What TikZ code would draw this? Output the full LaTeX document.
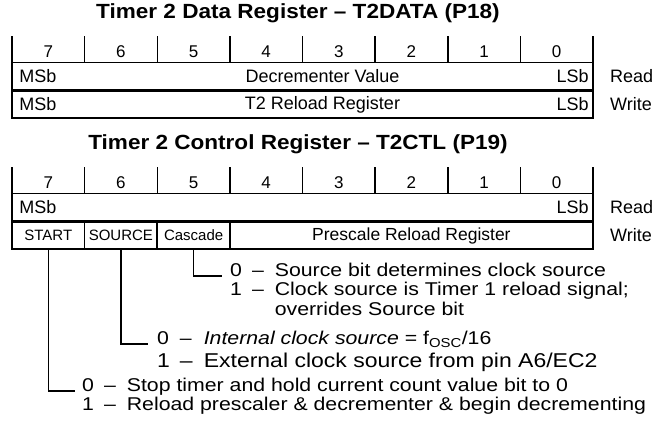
\documentclass[tikz,border=0pt]{standalone}
\usepackage{fontspec}
\setmainfont{Liberation Sans}
\newfontfamily\descfont{Liberation Sans}[FakeStretch=1.15]
\newfontfamily\titlefont{Liberation Sans}[FakeStretch=1.1]
\usetikzlibrary{positioning,calc}

\begin{document}
\begin{tikzpicture}[x=1pt, y=-1pt,
  regline/.style={line width=1.5pt},
  regtitle/.style={font=\titlefont\fontsize{20.5}{23}\selectfont\bfseries, anchor=base, inner sep=0pt},
  bitnum/.style={font=\fontsize{17}{19}\selectfont, anchor=base, inner sep=0pt},
  rowbox/.style={draw, regline, minimum width=581pt, minimum height=27pt, inner sep=0pt},
  rowtext/.style={font=\fontsize{18}{20}\selectfont, inner sep=0pt},
  field/.style={draw, regline, minimum height=27pt, inner sep=0pt, font=\fontsize{15}{17}\selectfont},
  rwlabel/.style={font=\fontsize{18}{20}\selectfont, anchor=west, inner sep=0pt},
  desc/.style={font=\descfont\fontsize{18.5}{19.5}\selectfont, anchor=base west, inner sep=0pt},
  lead/.style={line width=1.5pt}
]
\useasboundingbox (0,0) rectangle (654,421);

% Timer 2 data register
\node[regtitle] (ttl1) at (298,18) {Timer 2 Data Register – T2DATA (P18)};
\foreach \i in {0,...,8}
  \draw[regline] (12+\i*72.625,36) -- (12+\i*72.625,62);
\foreach \b [count=\i from 0] in {7,6,...,0}
  \node[bitnum] (d\b) at (48.3+\i*72.625,57) {\b};
\node[rowbox] (dread) at (302.5,76) {};
\node[rowbox] (dwrite) at (302.5,104.5) {};
\node[rowtext, anchor=west] at ([xshift=8pt]dread.west) {MSb};
\node[rowtext, anchor=east] at ([xshift=-5pt]dread.east) {LSb};
\node[rowtext] at ([xshift=20pt]dread.center) {Decrementer Value};
\node[rowtext, anchor=west] at ([xshift=8pt]dwrite.west) {MSb};
\node[rowtext, anchor=east] at ([xshift=-5pt]dwrite.east) {LSb};
\node[rowtext] at ([xshift=20pt]dwrite.center) {T2 Reload Register};
\node[rwlabel] (rd1) at (610,76) {Read};
\node[rwlabel] (wr1) at (610,104.5) {Write};

% Timer 2 control register
\node[regtitle] (ttl2) at (298,149) {Timer 2 Control Register – T2CTL (P19)};
\foreach \i in {0,...,8}
  \draw[regline] (12+\i*72.625,167) -- (12+\i*72.625,193);
\foreach \b [count=\i from 0] in {7,6,...,0}
  \node[bitnum] (c\b) at (48.3+\i*72.625,188) {\b};
\node[rowbox] (cread) at (302.5,207) {};
\node[rowtext, anchor=west] at ([xshift=8pt]cread.west) {MSb};
\node[rowtext, anchor=east] at ([xshift=-5pt]cread.east) {LSb};
\node[field, minimum width=72.625pt] (start) at (48.3,235.5) {START};
\node[field, minimum width=72.625pt] (source) at (120.9,235.5) {SOURCE};
\node[field, minimum width=72.625pt] (cascade) at (193.6,235.5) {Cascade};
\node[field, minimum width=363.1pt, font=\fontsize{17.5}{20}\selectfont] (prescale) at (411.4,235.5) {Prescale Reload Register};
\node[rwlabel] (rd2) at (610,207) {Read};
\node[rwlabel] (wr2) at (610,235.5) {Write};

% bit descriptions
\node[desc] (cascd) at (230,276) {\begin{tabular}[t]{@{}l@{\hspace{10pt}}l@{\hspace{11pt}}l@{}}
  0 & – & Source bit determines clock source\\
  1 & – & Clock source is Timer 1 reload signal;\\
    &   & overrides Source bit
\end{tabular}};
\node[desc] (sourced) at (157,344) {\begin{tabular}[t]{@{}l@{\hspace{10pt}}l@{\hspace{11pt}}l@{}}
  0 & – & {\itshape Internal clock source} = f\textsubscript{OSC}/16\\[3pt]
  \fontsize{20}{21}\selectfont 1 & \fontsize{20}{21}\selectfont – & \fontsize{20}{21}\selectfont External clock source from pin A6/EC2
\end{tabular}};
\node[desc] (startd) at (82,391) {\begin{tabular}[t]{@{}l@{\hspace{10pt}}l@{\hspace{11pt}}l@{}}
  0 & – & Stop timer and hold current count value bit to 0\\
  1 & – & Reload prescaler \& decrementer \& begin decrementing
\end{tabular}};

\draw[lead] (cascade.south) |- ([xshift=-8pt]cascd.base west);
\draw[lead] (source.south) |- ([xshift=-9pt]sourced.base west);
\draw[lead] (start.south) |- ([xshift=-7pt]startd.base west);
\end{tikzpicture}
\end{document}
